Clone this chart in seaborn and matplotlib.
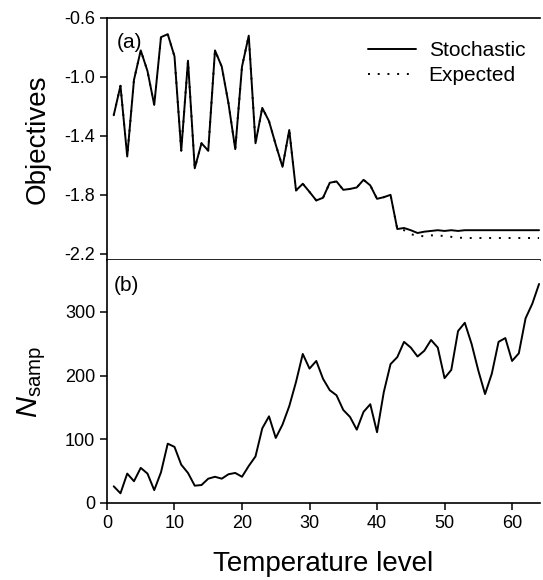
import matplotlib
matplotlib.use("Agg")
import matplotlib.pyplot as plt
import pandas as pd
import seaborn as sns

# temperature levels 1..64
temp_level = list(range(1, 65))

objective_stochastic = [
    -1.26, -1.06, -1.54, -1.02, -0.82, -0.96, -1.19, -0.73, -0.71, -0.86,
    -1.50, -0.89, -1.62, -1.45, -1.50, -0.82, -0.93, -1.18, -1.49, -0.93,
    -0.72, -1.45, -1.21, -1.30, -1.46, -1.61, -1.36, -1.77, -1.725, -1.78,
    -1.838, -1.82, -1.718, -1.709, -1.766, -1.76, -1.75, -1.698, -1.736, -1.827,
    -1.816, -1.80, -2.032, -2.025, -2.04, -2.059, -2.05, -2.045, -2.04, -2.045,
    -2.04, -2.045, -2.04, -2.04, -2.04, -2.04, -2.04, -2.04, -2.04, -2.04,
    -2.04, -2.04, -2.04, -2.04,
]

# expected objective follows the stochastic one up to level 43
objective_expected_tail = [
    -2.04, -2.066, -2.08, -2.08, -2.075, -2.075, -2.08, -2.085, -2.09, -2.093,
    -2.093, -2.093, -2.093, -2.093, -2.093, -2.093, -2.093, -2.093, -2.093, -2.093,
    -2.093,
]
objective_expected = objective_stochastic[:43] + objective_expected_tail

n_samp = [
    26, 15, 46, 34, 55, 46, 20, 48, 93, 88,
    60, 47, 27, 28, 38, 41, 38, 45, 47, 41,
    58, 73, 117, 136, 102, 123, 152, 190, 234, 211,
    223, 195, 177, 169, 146, 135, 115, 143, 155, 111,
    174, 218, 229, 253, 244, 230, 239, 256, 244, 196,
    209, 270, 283, 250, 208, 171, 203, 253, 259, 223,
    235, 290, 313, 344,
]

top_ticks = [-0.6, -1.0, -1.4, -1.8, -2.2]
bottom_ticks = [0, 100, 200, 300]
x_ticks = [0, 10, 20, 30, 40, 50, 60]

df = pd.DataFrame({
    "level": temp_level,
    "stochastic": objective_stochastic,
    "expected": objective_expected,
    "n_samp": n_samp,
})

sns.set_theme(style="ticks")
plt.rcParams["font.family"] = ["Liberation Sans", "DejaVu Sans"]
plt.rcParams["mathtext.fontset"] = "custom"
plt.rcParams["mathtext.rm"] = "Liberation Sans"
plt.rcParams["mathtext.it"] = "Liberation Sans:italic"
plt.rcParams["axes.unicode_minus"] = False
plt.rcParams["axes.linewidth"] = 1.2
plt.rcParams["xtick.major.width"] = 1.1
plt.rcParams["ytick.major.width"] = 1.1
plt.rcParams["xtick.major.size"] = 5
plt.rcParams["ytick.major.size"] = 5
plt.rcParams["xtick.color"] = "black"
plt.rcParams["ytick.color"] = "black"
plt.rcParams["axes.edgecolor"] = "black"
plt.rcParams["axes.labelcolor"] = "black"
plt.rcParams["text.color"] = "black"

fig, (ax1, ax2) = plt.subplots(2, 1, figsize=(5.43, 5.80), dpi=100, sharex=True)
fig.subplots_adjust(left=0.197, right=0.994, top=0.969, bottom=0.133, hspace=0)

sns.lineplot(data=df, x="level", y="expected", ax=ax1, color="black",
             linewidth=1.4, linestyle=(0, (1, 4)), label="Expected")
sns.lineplot(data=df, x="level", y="stochastic", ax=ax1, color="black",
             linewidth=1.4, label="Stochastic")

ax1.set_ylim(-2.245, -0.6)
ax1.set_yticks(top_ticks)
ax1.set_yticklabels([f"{t:.1f}" for t in top_ticks])
ax1.set_ylabel("Objectives", fontsize=20, labelpad=10)
ax1.set_xlabel("")
ax1.tick_params(axis="x", bottom=False, labelbottom=False)
ax1.tick_params(axis="y", labelsize=13)
ax1.spines["right"].set_visible(False)
ax1.text(0.022, 0.9, "(a)", transform=ax1.transAxes, fontsize=15,
         ha="left", va="center")

handles, labels = ax1.get_legend_handles_labels()
order = [labels.index("Stochastic"), labels.index("Expected")]
ax1.legend([handles[i] for i in order], [labels[i] for i in order],
           loc="upper right", frameon=False, fontsize=15, handlelength=2.3,
           handletextpad=0.6, labelspacing=0.3, borderaxespad=0.3,
           bbox_to_anchor=(1.0, 0.965))

sns.lineplot(data=df, x="level", y="n_samp", ax=ax2, color="black", linewidth=1.4)
ax2.set_ylim(0, 381)
ax2.set_yticks(bottom_ticks)
ax2.set_xlim(0, 64.1)
ax2.set_xticks(x_ticks)
ax2.set_ylabel(r"$N_{\rm samp}$", fontsize=21, labelpad=12)
ax2.set_xlabel("Temperature level", fontsize=20, labelpad=14)
ax2.tick_params(axis="both", labelsize=13)
ax2.spines["right"].set_visible(False)
ax2.spines["top"].set_visible(False)
ax2.text(0.015, 0.897, "(b)", transform=ax2.transAxes, fontsize=15,
         ha="left", va="center")

fig.savefig("out.png", dpi=100)
